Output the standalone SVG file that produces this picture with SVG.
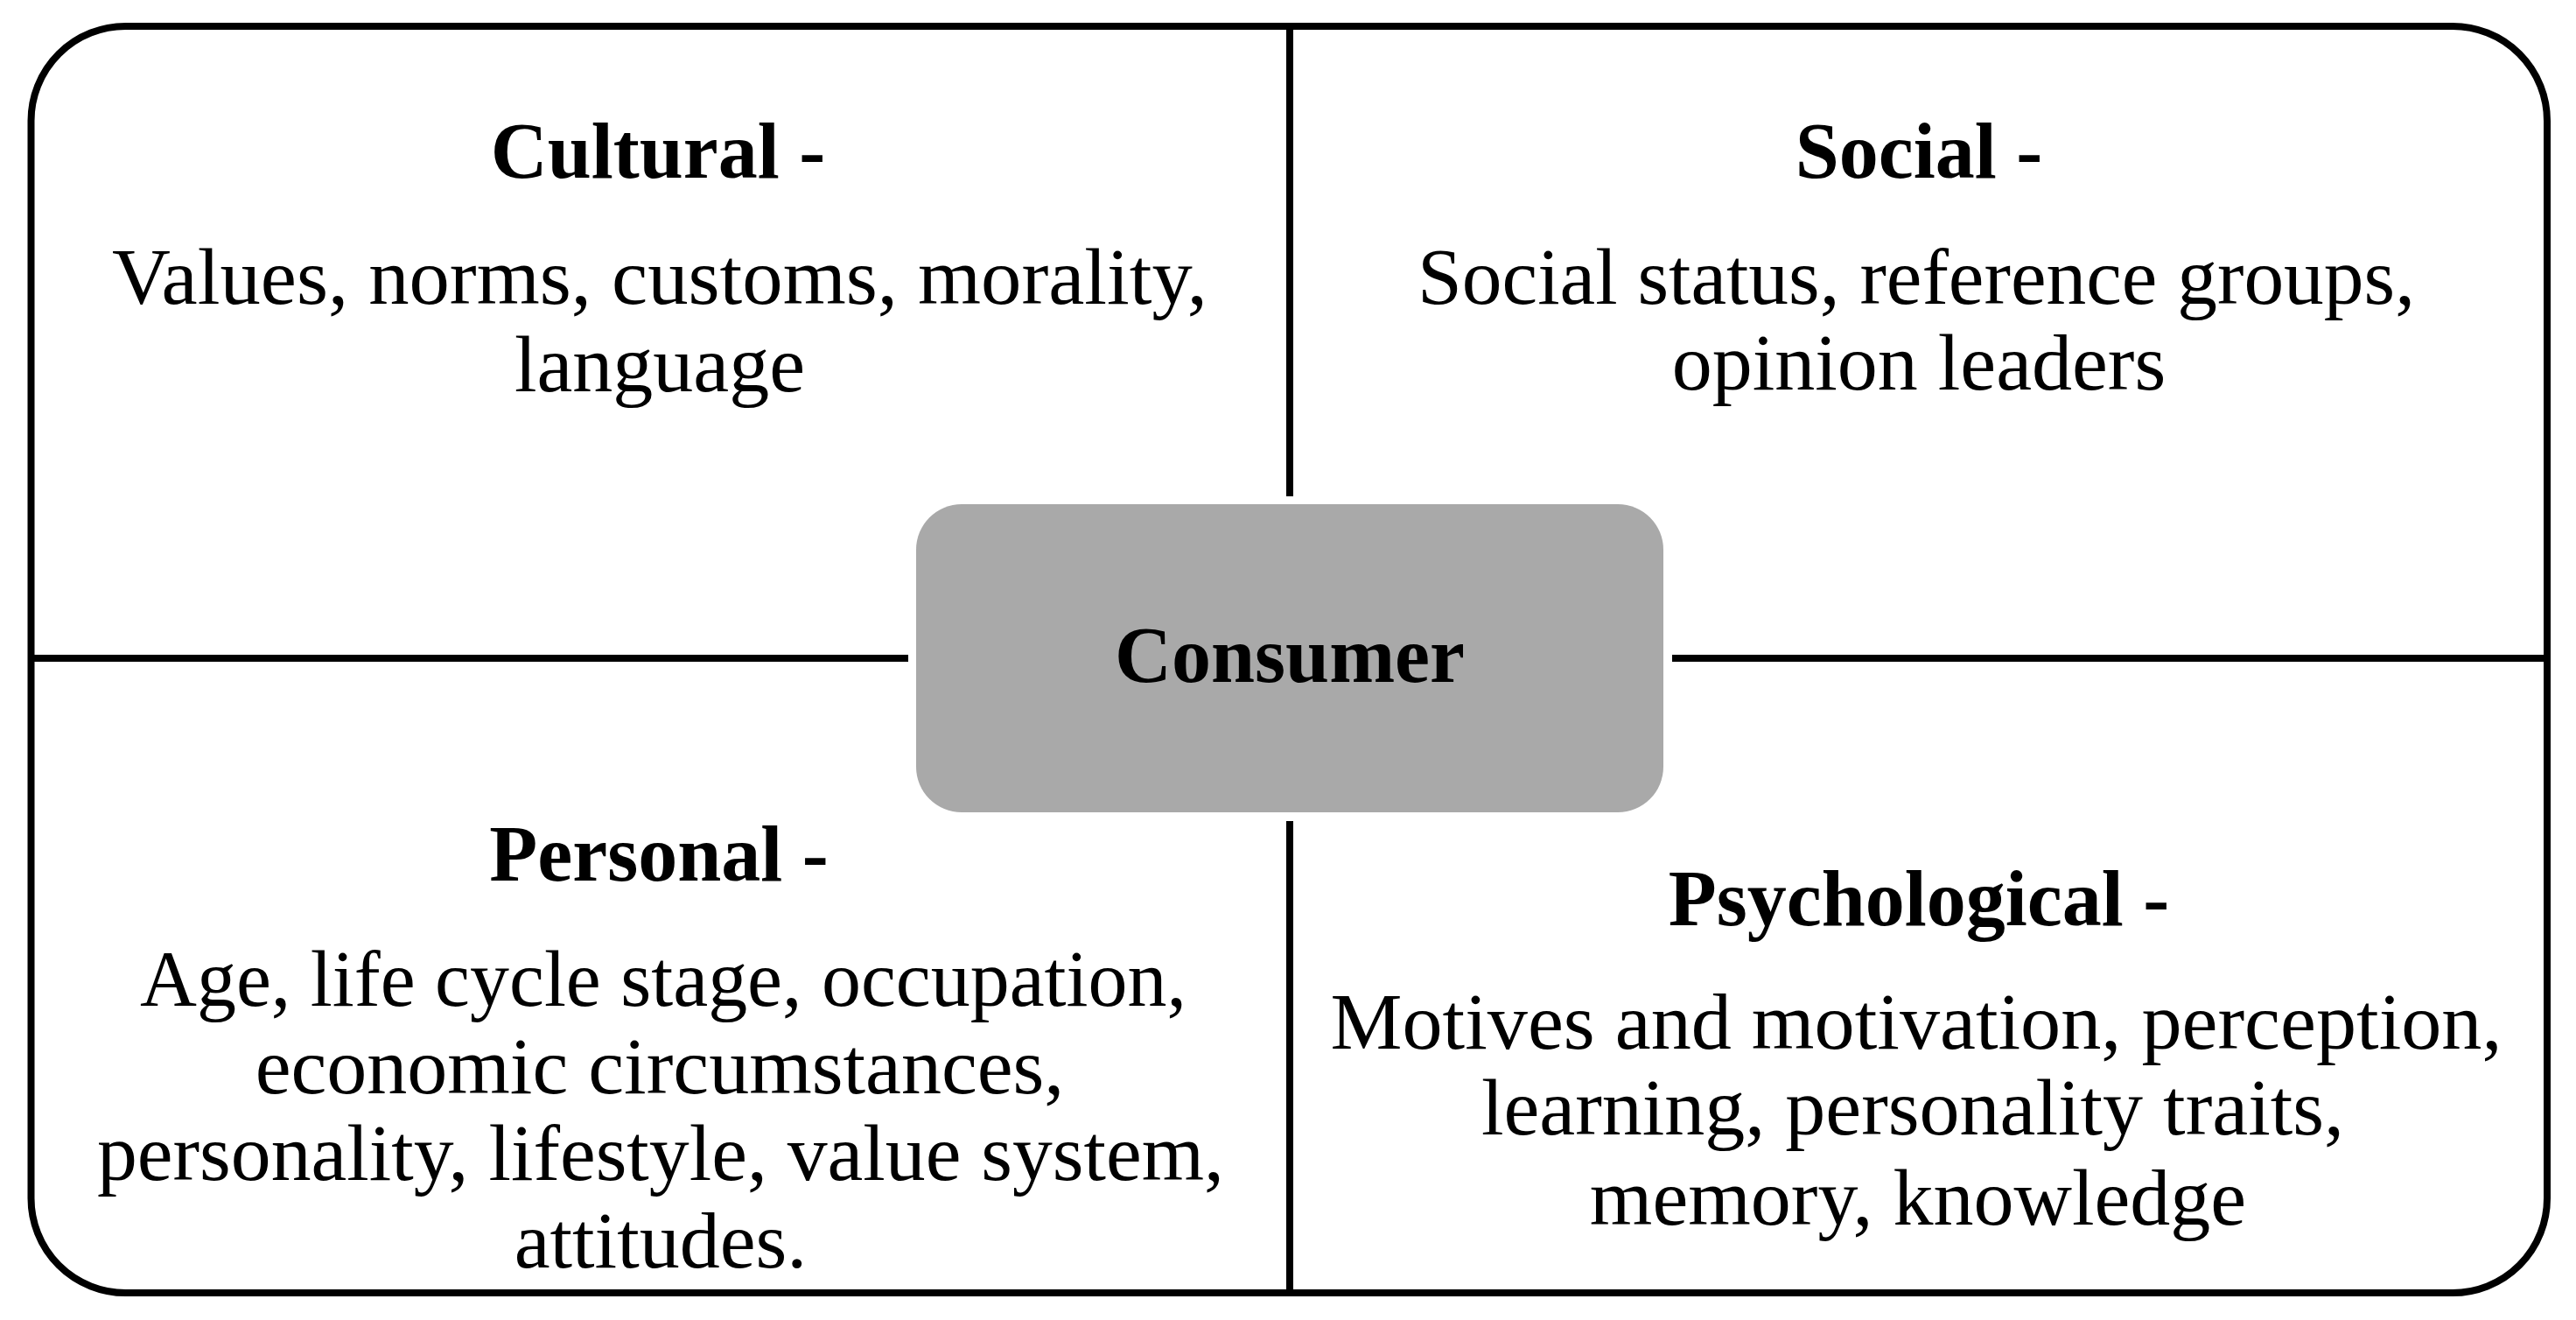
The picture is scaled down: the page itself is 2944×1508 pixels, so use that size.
<svg xmlns="http://www.w3.org/2000/svg" width="2944" height="1508" viewBox="0 0 2944 1508">
<style>
.t{font-family:"Liberation Serif","Times New Roman",serif;font-size:92px;fill:#000;text-anchor:middle}
.b{font-weight:bold;font-size:90px}
.ln{stroke:#000;stroke-width:8;fill:none}
</style>
<rect width="2944" height="1508" fill="#fff"/>
<g id="frame">
<rect x="35.5" y="30" width="2875.5" height="1447" rx="108" ry="108" class="ln"/>
</g>
<g id="connectors">
<line x1="1474" y1="30" x2="1474" y2="567" class="ln"/>
<line x1="1474" y1="938" x2="1474" y2="1477" class="ln"/>
<line x1="35.5" y1="752" x2="1038" y2="752" class="ln"/>
<line x1="1911" y1="752" x2="2911" y2="752" class="ln"/>
</g>
<g id="consumer">
<rect x="1047" y="576" width="854" height="352" rx="52" ry="52" fill="#a9a9a9"/>
<text class="t b" x="1474" y="779">Consumer</text>
</g>
<g id="cultural">
<text class="t b" x="752" y="203">Cultural -</text>
<text class="t" x="754" y="347" textLength="1252" lengthAdjust="spacingAndGlyphs">Values, norms, customs, morality,</text>
<text class="t" x="754" y="447">language</text>
</g>
<g id="social">
<text class="t b" x="2193" y="203">Social -</text>
<text class="t" x="2190" y="347" textLength="1140" lengthAdjust="spacingAndGlyphs">Social status, reference groups,</text>
<text class="t" x="2193" y="445">opinion leaders</text>
</g>
<g id="personal">
<text class="t b" x="753" y="1006">Personal -</text>
<text class="t" x="758" y="1149" textLength="1196" lengthAdjust="spacingAndGlyphs">Age, life cycle stage, occupation,</text>
<text class="t" x="754" y="1249">economic circumstances,</text>
<text class="t" x="755" y="1348" textLength="1288" lengthAdjust="spacingAndGlyphs">personality, lifestyle, value system,</text>
<text class="t" x="755" y="1448">attitudes.</text>
</g>
<g id="psychological">
<text class="t b" x="2193" y="1057">Psychological -</text>
<text class="t" x="2190" y="1198" textLength="1339" lengthAdjust="spacingAndGlyphs">Motives and motivation, perception,</text>
<text class="t" x="2186" y="1296">learning, personality traits,</text>
<text class="t" x="2192" y="1399">memory, knowledge</text>
</g>
</svg>
